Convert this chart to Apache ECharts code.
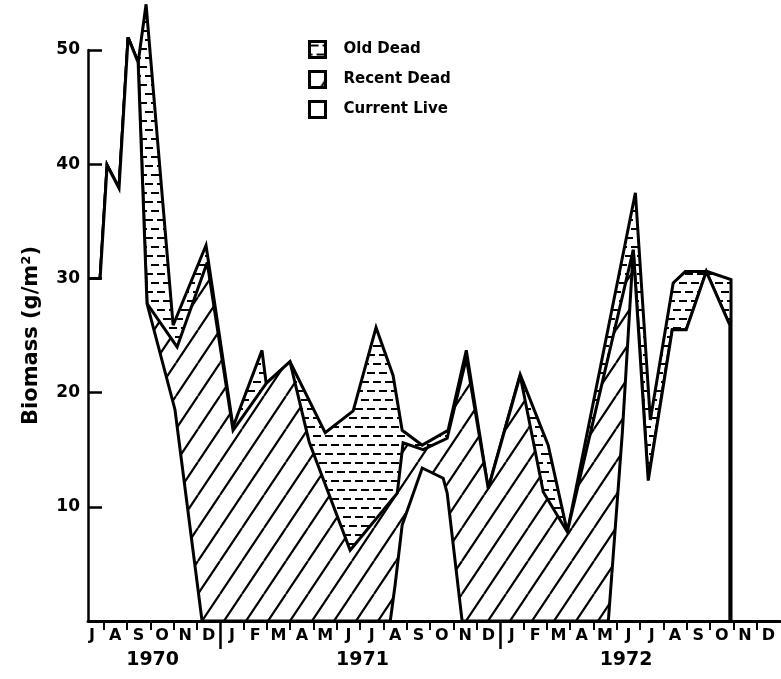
<!DOCTYPE html>
<html><head><meta charset="utf-8">
<script src="https://cdn.jsdelivr.net/npm/echarts@6/dist/echarts.min.js"></script>
<style>html,body{margin:0;padding:0;background:#fff}#c{width:781px;height:679px}</style>
</head><body><div id="c"></div>
<script>
// x = months since 1 Jul 1970, y = biomass (g/m2)
const totalX = [0.33,0.85,1.15,1.66,2.05,2.48,2.82,3.98,5.39,6.55,7.79,7.97,8.99,10.50,11.70,12.68,13.41,13.80,14.66,15.77,16.55,17.49,18.86,20.06,20.88,23.80,24.44,25.42,25.94,26.88,27.90,27.90];
const totalY = [30.0,30.0,39.9,37.9,51.1,48.9,54.0,25.9,32.9,17.0,23.7,20.8,22.7,16.5,18.4,25.7,21.5,16.7,15.4,16.7,23.7,11.6,21.6,15.4,7.8,37.5,17.6,29.6,30.6,30.6,29.9,0];

const recentX = [0.33,0.85,1.15,1.66,2.05,2.48,2.86,4.15,5.44,6.55,7.97,8.99,9.81,11.57,13.59,13.84,14.70,15.73,16.55,17.49,18.86,19.85,20.88,23.71,24.35,25.38,25.98,26.84,27.85,27.85];
const recentY = [30.0,30.0,39.9,37.9,51.1,48.9,27.8,24.0,31.4,16.7,20.8,22.7,15.7,6.2,11.2,15.6,15.0,16.0,23.0,11.6,21.5,11.3,7.8,32.5,12.3,25.5,25.5,30.6,25.9,0];

const liveX = [0.33,0.85,1.15,1.66,2.05,2.48,2.86,4.06,5.22,13.29,13.50,13.80,14.66,15.56,15.73,16.37,22.64,23.24,23.58,23.71,24.35,25.38,25.98,26.84,27.85,27.85];
const liveY = [30.0,30.0,39.9,37.9,51.1,48.9,27.8,18.5,0,0,3.2,8.4,13.4,12.5,11.2,0,0,16.5,28.1,32.5,12.3,25.5,25.5,30.6,25.9,0];

const monthLabels = ['J','A','S','O','N','D','J','F','M','A','M','J','J','A','S','O','N','D','J','F','M','A','M','J','J','A','S','O','N','D'];
const yearLabels = ['1970','1971','1972'];
const yearLabelPos = [3.1, 12.1, 23.4];
const yearBreaks = [6, 18];

function pairs(xs, ys){ return xs.map((x,i)=>[x, ys[i]]); }

function hatchCanvas(){
  const c=document.createElement('canvas'); c.width=22; c.height=33;
  const g=c.getContext('2d'); g.fillStyle='#fff'; g.fillRect(0,0,22,33);
  g.strokeStyle='#000'; g.lineWidth=2.2; g.beginPath();
  for (const dx of [-22,0,22]) { g.moveTo(dx,33); g.lineTo(dx+22,0); }
  g.stroke(); return c;
}
function dashCanvas(){
  const c=document.createElement('canvas'); c.width=24; c.height=18;
  const g=c.getContext('2d'); g.fillStyle='#fff'; g.fillRect(0,0,24,18);
  g.fillStyle='#000';
  g.fillRect(1,3,8,2); g.fillRect(13,3,8,2);
  g.fillRect(7,12,8,2); g.fillRect(19,12,5,2); g.fillRect(0,12,3,2);
  return c;
}
const hatch = {image: hatchCanvas(), repeat:'repeat'};
const dashes = {image: dashCanvas(), repeat:'repeat'};

const monthTickVals = []; for (let i=1;i<30;i++) if (!yearBreaks.includes(i)) monthTickVals.push(i);
const monthLabelVals = monthLabels.map((_,i)=>i+0.5);

const FONT = 'DejaVu Sans';
const chart = echarts.init(document.getElementById('c'), null, {renderer:'canvas'});
const lineStyle = {color:'#000', width:3, join:'miter', miterLimit:4};
chart.setOption({
  animation:false,
  backgroundColor:'#fff',
  grid:{left:88, right:1, top:50, bottom:58, containLabel:false, outerBoundsMode:'none'},
  legend:{
    orient:'vertical', left:303, top:35, itemWidth:16, itemHeight:16, itemGap:11,
    textStyle:{fontFamily:FONT, fontWeight:'bold', fontSize:15, color:'#000', padding:[0,0,0,13]},
    data:[
      {name:'Old Dead', icon:'rect', itemStyle:{color:dashes, borderColor:'#000', borderWidth:3}},
      {name:'Recent Dead', icon:'rect', itemStyle:{color:hatch, borderColor:'#000', borderWidth:3}},
      {name:'Current Live', icon:'rect', itemStyle:{color:'#fff', borderColor:'#000', borderWidth:3}}
    ]
  },
  xAxis:[
    {type:'value', min:0.33, max:30, position:'bottom', z:10,
     axisLine:{show:true, lineStyle:{color:'#000', width:3}},
     axisTick:{show:true, customValues:monthTickVals, length:9, lineStyle:{color:'#000', width:2}},
     axisLabel:{customValues:monthLabelVals, margin:7, color:'#000', fontFamily:FONT, fontWeight:'bold', fontSize:16,
       formatter:(v)=>monthLabels[Math.floor(v)]},
     splitLine:{show:false}},
    {type:'value', min:0.33, max:30, position:'bottom', z:10,
     axisLine:{show:false},
     axisTick:{show:true, customValues:yearBreaks, length:28, lineStyle:{color:'#000', width:2.5}},
     axisLabel:{customValues:yearLabelPos, margin:30, color:'#000', fontFamily:FONT, fontWeight:'bold', fontSize:19,
       formatter:(v)=>yearLabels[yearLabelPos.indexOf(v)] ?? ''},
     splitLine:{show:false}}
  ],
  yAxis:{type:'value', min:0, max:50, interval:10, z:10,
    name:'Biomass (g/m²)', nameLocation:'middle', nameGap:46,
    nameTextStyle:{fontFamily:FONT, fontSize:21, fontWeight:'bold', color:'#000'},
    axisLine:{show:true, lineStyle:{color:'#000', width:2.5}},
    axisTick:{show:true, inside:true, length:14, lineStyle:{color:'#000', width:2.5}},
    axisLabel:{margin:8, color:'#000', fontFamily:FONT, fontWeight:'bold', fontSize:17,
      formatter:(v)=> v===0 ? '' : String(v)},
    splitLine:{show:false}},
  series:[
    {name:'Old Dead', type:'line', data:pairs(totalX,totalY), symbol:'none', clip:false, z:2,
     lineStyle:lineStyle, itemStyle:{color:'#000'}, areaStyle:{color:dashes, opacity:1}},
    {name:'Recent Dead', type:'line', data:pairs(recentX,recentY), symbol:'none', clip:false, z:3,
     lineStyle:lineStyle, itemStyle:{color:'#000'}, areaStyle:{color:hatch, opacity:1}},
    {name:'Current Live', type:'line', data:pairs(liveX,liveY), symbol:'none', clip:false, z:4,
     lineStyle:lineStyle, itemStyle:{color:'#000'}, areaStyle:{color:'#fff', opacity:1}}
  ]
});
</script></body></html>
